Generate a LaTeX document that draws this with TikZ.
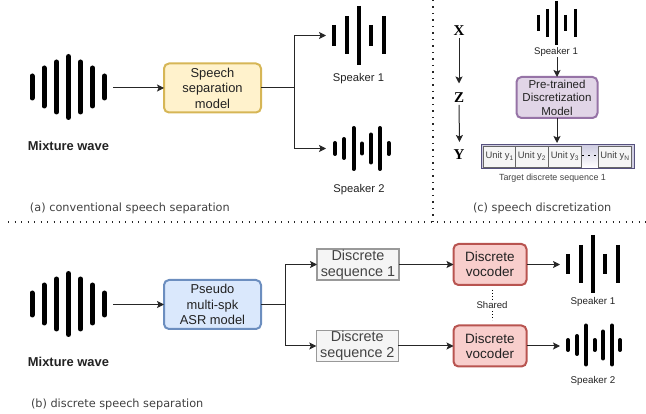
\documentclass[tikz,border=0pt]{standalone}
\usepackage{fontspec}
\setmainfont{Liberation Sans}
\newfontfamily\capfont{DejaVu Sans}
\newfontfamily\serifbold{Liberation Serif}
\usetikzlibrary{arrows.meta,shadings}
\definecolor{txt}{HTML}{222222}
\definecolor{ybg}{HTML}{FFF2CC}\definecolor{ybd}{HTML}{D6B656}
\definecolor{bbg}{HTML}{DAE8FC}\definecolor{bbd}{HTML}{6C8EBF}
\definecolor{rbg}{HTML}{F8CECC}\definecolor{rbd}{HTML}{B85450}
\definecolor{pbg}{HTML}{E1D5E7}\definecolor{pbd}{HTML}{9673A6}
\definecolor{sbg}{HTML}{F5F5F5}\definecolor{sbd}{HTML}{999999}
\definecolor{ubd}{HTML}{666666}
\definecolor{sbgd}{HTML}{D0CEE2}\definecolor{stb}{HTML}{56517E}
\tikzset{
  x=1pt,y=-1pt,
  every node/.style={inner sep=0pt,outer sep=0pt,text=txt,align=center},
  fs/.style={font=\fontsize{#1}{15}\selectfont},
  model/.style={draw,rounded corners=5pt,line width=2pt},
  yellowbox/.style={model,fill=ybg,draw=ybd,font=\fontsize{12.9}{15.5}\selectfont},
  bluebox/.style={model,fill=bbg,draw=bbd,font=\fontsize{12.9}{15.5}\selectfont},
  redbox/.style={model,fill=rbg,draw=rbd,font=\fontsize{13.5}{14.8}\selectfont},
  purplebox/.style={model,fill=pbg,draw=pbd,font=\fontsize{11.5}{13.5}\selectfont},
  seqbox/.style={draw=sbd,fill=sbg,line width=1.2pt,text=txt!85!white,font=\fontsize{14.4}{16}\selectfont},
  unitbox/.style={draw=ubd,fill=sbg,line width=.8pt,text=txt!85!white,fs=9.4},
  link/.style={line width=1pt,draw=black!85,-{Stealth[length=7pt,width=7pt,inset=1.5pt]}},
  plainlink/.style={line width=1pt,draw=black!85},
  sepline/.style={line width=1.2pt,dash pattern=on 1.2pt off 5.3pt,draw=black!85},
  sharedlink/.style={line width=1pt,dash pattern=on 1.2pt off 1.8pt,draw=black},
  gapdots/.style={line width=1.6pt,dash pattern=on 1.6pt off 4.4pt,draw=black},
  bigbar/.style={line width=5pt,line cap=round,draw=black},
  bar/.style={line width=4pt,draw=black},
  roundbar/.style={line width=4pt,line cap=round,draw=black},
  smallbar/.style={line width=3pt,draw=black},
  boldlabel/.style={font=\fontsize{12.9}{15}\selectfont\bfseries},
  letter/.style={font=\fontsize{15}{17}\serifbold\bfseries,text=black},
  caption/.style={anchor=west,font=\fontsize{11.3}{13}\capfont,text=black!75}
}
\newcommand{\wavebars}[3]{\foreach \xx/\hh in {#3} \draw[#1] (\xx,{#2-\hh}) -- (\xx,{#2+\hh});}
\begin{document}
\begin{tikzpicture}
\useasboundingbox (0,0) rectangle (646,414);
% separators
\coordinate (sepL) at (8,222); \coordinate (sepR) at (646,222);
\coordinate (sepT) at (433,0); \coordinate (sepB) at (433,222);
\draw[sepline] (sepL) -- (sepR);
\draw[sepline] (sepT) -- (sepB);
% waveforms
\wavebars{bigbar}{87}{32/11,44/19,56.5/25,68.5/30.5,80.5/25,92.5/19,104.5/11}
\wavebars{bigbar}{304}{32/11,44/19,56.5/25,68.5/30.5,80.5/25,92.5/19,104.5/11}
\wavebars{bar}{35.5}{334/10.5,346.5/19,358.5/29.5,371/10.5,383.5/19}
\wavebars{roundbar}{148.5}{335/5.5,344/9.5,353.5/20.5,362/5,371/14,380/20.5,388.5/5.5}
\wavebars{smallbar}{23}{538/8,547/14,556.7/22,565.7/8,575/14}
\wavebars{bar}{264}{568/10,580.7/19,593/29,605/10,617.7/19}
\wavebars{roundbar}{345}{568/5,577/9,586/19.5,594.5/5,603/13.5,612/19.5,620/5}
% labels
\node[boldlabel] (mixA) at (68.5,146) {Mixture wave};
\node[boldlabel] (mixB) at (68.5,361.5) {Mixture wave};
\node[fs=11.2] (spkA1) at (358.5,79) {Speaker 1};
\node[fs=11.2] (spkA2) at (359,190) {Speaker 2};
\node[fs=9.6] (spkC) at (556,52) {Speaker 1};
\node[fs=9.8] (spkB1) at (593,302) {Speaker 1};
\node[fs=9.8] (spkB2) at (593,381) {Speaker 2};
% boxes
\node[yellowbox,minimum width=97pt,minimum height=49pt] (sep) at (212.5,88) {Speech\\separation\\model};
\node[bluebox,minimum width=97pt,minimum height=49pt] (asr) at (212.5,304.5) {Pseudo\\multi-spk\\ASR model};
\node[seqbox,minimum width=82pt,minimum height=31pt] (seqA) at (358,264.5) {Discrete\\sequence 1};
\node[seqbox,minimum width=82pt,minimum height=31pt] (seqB) at (357.3,346) {Discrete\\sequence 2};
\node[redbox,minimum width=73pt,minimum height=41pt] (vocA) at (490,264.5) {Discrete\\vocoder};
\node[redbox,minimum width=73pt,minimum height=41pt] (vocB) at (490,346) {Discrete\\vocoder};
\node[purplebox,minimum width=81pt,minimum height=41pt] (disc) at (557,97.5) {Pre-trained\\Discretization\\Model};
\node[fs=9.6] (shared) at (492,305.5) {Shared};
% discrete sequence strip
\node[draw=stb,line width=1pt,fill=sbgd,minimum width=153pt,minimum height=24pt] (strip) at (557.5,156.5) {};
\fill[top color=sbgd,bottom color=white] (581,145.5) rectangle (598,167.5);
\node[unitbox,minimum width=32.5pt,minimum height=21pt] (u1) at (499.7,156.5) {Unit y\textsubscript{1}};
\node[unitbox,minimum width=32.5pt,minimum height=21pt] (u2) at (532,156.5) {Unit y\textsubscript{2}};
\node[unitbox,minimum width=33pt,minimum height=21pt] (u3) at (565,156.5) {Unit y\textsubscript{3}};
\node[unitbox,minimum width=33pt,minimum height=21pt] (uN) at (615,156.5) {Unit y\textsubscript{N}};
\coordinate (dotsL) at (582,155.7); \coordinate (dotsR) at (596,155.7);
\draw[gapdots] (dotsL) -- (dotsR);
\node[fs=8.9,text=txt!85!white] (target) at (552.5,178) {Target discrete sequence 1};
% XZY
\node[letter] (X) at (459,31) {X};
\node[letter] (Z) at (459,98) {Z};
\node[letter] (Y) at (459,155) {Y};
% captions
\node[caption] (capA) at (30,208) {(a) conventional speech separation};
\node[caption] (capB) at (31,404) {(b) discrete speech separation};
\node[caption] (capC) at (473,208) {(c) speech discretization};
% connectors
\coordinate (mixAout) at (113,88);
\coordinate (mixBout) at (113,304.5);
\coordinate (spkA1in) at (326,35.5);
\coordinate (spkA2in) at (326,148.5);
\coordinate (forkA) at (294,88);
\coordinate (forkB) at (285.5,304.5);
\coordinate (spkB1in) at (560,264.5);
\coordinate (spkB2in) at (560,346);
\coordinate (zIn) at (459,83.5);
\coordinate (yIn) at (459.5,142);
\coordinate (stripIn) at (557,143);
\draw[link] (mixAout) -- (sep.west);
\draw[plainlink] (sep.east) -- (forkA);
\draw[link] (forkA) |- (spkA1in);
\draw[link] (forkA) |- (spkA2in);
\draw[link] (mixBout) -- (asr.west);
\draw[plainlink] (asr.east) -- (forkB);
\draw[link] (forkB) |- (seqA.west);
\draw[link] (forkB) |- (seqB.west);
\draw[link] (seqA.east) -- (vocA.west);
\draw[link] (seqB.east) -- (vocB.west);
\draw[link] (vocA.east) -- (spkB1in);
\draw[link] (vocB.east) -- (spkB2in);
\draw[sharedlink] (vocA.south -| shared) ++(0,5) -- ++(0,10);
\draw[sharedlink] (shared.south) ++(0,2) -- ++(0,9);
\draw[link] (X.south) ++(0,2) -- (zIn);
\draw[link] (Z.south) ++(0,2) -- (yIn);
\draw[link] (spkC.south) ++(1,1) -- (disc.north);
\draw[link] (disc.south) -- (stripIn);
\end{tikzpicture}
\end{document}
